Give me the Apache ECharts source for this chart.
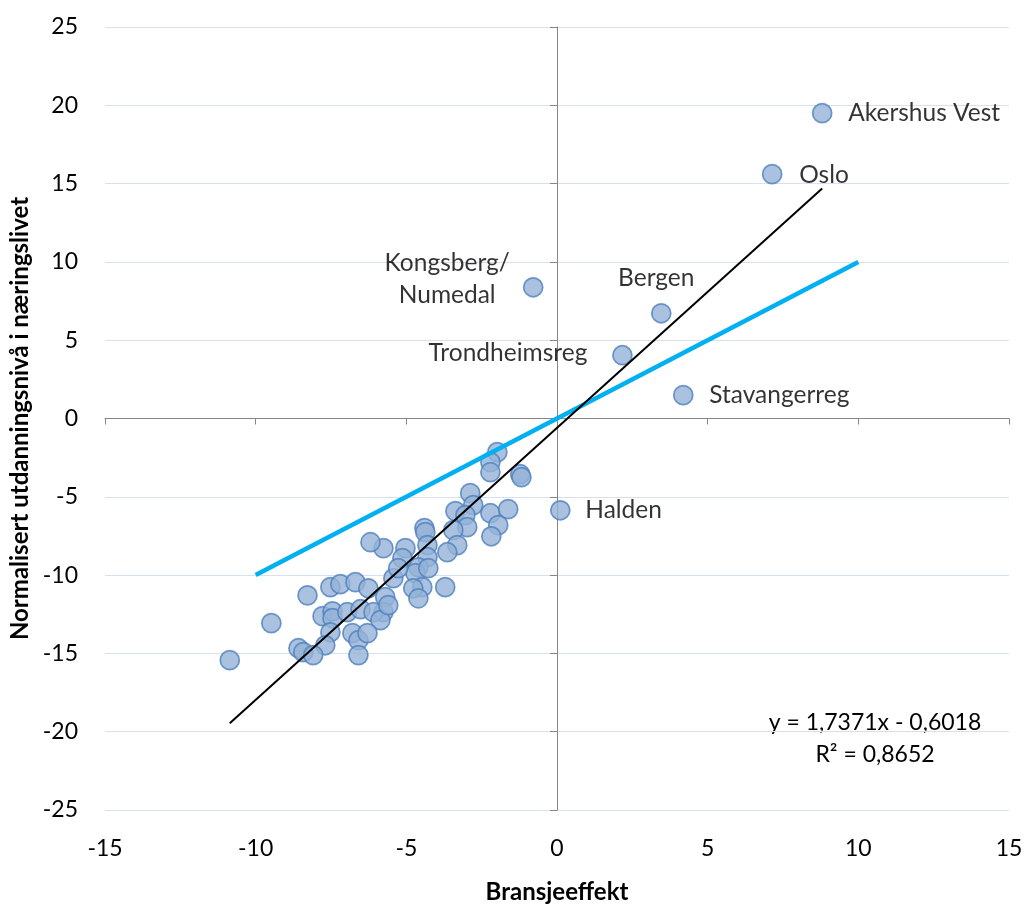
<!DOCTYPE html>
<html><head><meta charset="utf-8">
<script src="https://cdn.jsdelivr.net/npm/echarts@6/dist/echarts.min.js"></script>
<style>html,body{margin:0;padding:0;background:#fff}#c{width:1025px;height:904px}</style>
</head><body><div id="c"></div>
<script>
// ---- data ----
const xAxisTicks = [-15, -10, -5, 0, 5, 10, 15];
const yAxisTicks = [-25, -20, -15, -10, -5, 0, 5, 10, 15, 20, 25];

const namedRegions = ['Akershus Vest', 'Oslo', 'Kongsberg/\nNumedal', 'Bergen', 'Trondheimsreg', 'Stavangerreg', 'Halden'];
const namedX = [8.80, 7.14, -0.79, 3.46, 2.17, 4.19, 0.11];
const namedY = [19.50, 15.60, 8.38, 6.72, 4.04, 1.49, -5.86];

const regionX = [-10.86, -9.48, -8.28, -1.98, -2.21, -2.21, -1.22, -1.18, -2.88, -2.78,
  -3.37, -3.04, -2.21, -1.62, -1.95, -2.18, -2.98, -3.44, -3.31, -3.64,
  -4.40, -4.37, -4.30, -4.30, -5.03, -5.13, -5.76, -4.60, -4.70, -4.27,
  -4.47, -4.77, -4.60, -3.71, -5.43, -5.70, -5.76, -6.19, -7.52, -7.19,
  -6.69, -6.26, -7.78, -7.45, -7.45, -6.96, -6.52, -6.09, -5.86, -7.52,
  -7.69, -8.58, -8.42, -8.09, -6.79, -6.59, -6.29, -6.59, -5.60, -5.27];
const regionY = [-15.43, -13.07, -11.29, -2.15, -2.79, -3.43, -3.56, -3.75, -4.77, -5.53,
  -5.92, -6.17, -6.05, -5.79, -6.81, -7.52, -6.94, -7.13, -8.09, -8.54,
  -7.00, -7.26, -8.09, -8.86, -8.28, -8.92, -8.28, -9.50, -9.88, -9.56,
  -10.77, -10.84, -11.48, -10.77, -10.20, -11.41, -12.37, -7.90, -10.77, -10.58,
  -10.45, -10.84, -12.62, -12.31, -12.75, -12.37, -12.18, -12.37, -12.88, -13.65,
  -14.48, -14.67, -14.92, -15.11, -13.71, -14.16, -13.71, -15.11, -11.92, -9.56];

const diagonalX = [-10, 10];
const diagonalY = [-10, 10];

const trendSlope = 1.7371;
const trendIntercept = -0.6018;
const trendR2 = 0.8652;

// ---- build ----
const FONT = 'Lato, "Open Sans", sans-serif';
const labelStyles = {
  'Akershus Vest': {align: 'left', offset: [26, 0]},
  'Oslo': {align: 'left', offset: [27, 1]},
  'Kongsberg/\nNumedal': {align: 'center', offset: [-86, -8]},
  'Bergen': {align: 'center', offset: [-5, -35]},
  'Trondheimsreg': {align: 'right', offset: [-35, -2]},
  'Stavangerreg': {align: 'left', offset: [26, 0]},
  'Halden': {align: 'left', offset: [25, 0]}
};

const pointData = regionX.map((x, i) => [x, regionY[i]]);
const namedData = namedRegions.map((n, i) => ({
  name: n,
  value: [namedX[i], namedY[i]],
  label: Object.assign({show: true, position: 'inside', verticalAlign: 'middle',
    color: '#000', fontFamily: FONT, fontSize: 24.5, lineHeight: 32,
    formatter: n}, labelStyles[n])
}));

const allX = regionX.concat(namedX);
const tMin = Math.min(...allX), tMax = Math.max(...allX);
const trendData = [[tMin, trendSlope * tMin + trendIntercept], [tMax, trendSlope * tMax + trendIntercept]];
const fmt = v => v.toFixed(4).replace('.', ',');
const eqText = 'y = ' + fmt(trendSlope) + 'x ' + (trendIntercept < 0 ? '- ' : '+ ') + fmt(Math.abs(trendIntercept));
const r2Text = 'R² = ' + fmt(trendR2);

const markerStyle = {color: '#95B3D7', borderColor: '#4F81BD', borderWidth: 1.75};

const chart = echarts.init(document.getElementById('c'), null, {renderer: 'canvas'});
chart.setOption({
  animation: false,
  backgroundColor: '#fff',
  grid: {left: 105, top: 27, width: 904, height: 783, containLabel: false, outerBoundsMode: 'none'},
  xAxis: [
    {type: 'value', min: xAxisTicks[0], max: xAxisTicks[xAxisTicks.length - 1], interval: 5,
      axisLine: {show: false, onZero: false}, axisTick: {show: false}, splitLine: {show: false},
      axisLabel: {margin: 27, fontSize: 23, color: '#000', fontFamily: FONT},
      name: 'Bransjeeffekt', nameLocation: 'middle', nameGap: 70,
      nameTextStyle: {fontSize: 24, fontWeight: 'bold', color: '#000', fontFamily: FONT}},
    {type: 'value', min: xAxisTicks[0], max: xAxisTicks[xAxisTicks.length - 1], interval: 5, position: 'bottom',
      axisLine: {show: true, onZero: true, onZeroAxisIndex: 0, lineStyle: {color: '#868686', width: 1}},
      axisTick: {show: true, length: 6, lineStyle: {color: '#868686'}},
      axisLabel: {show: false}, splitLine: {show: false}}
  ],
  yAxis: [
    {type: 'value', min: yAxisTicks[0], max: yAxisTicks[yAxisTicks.length - 1], interval: 5,
      axisLine: {show: false, onZero: false}, axisTick: {show: false},
      splitLine: {show: true, lineStyle: {color: '#D7E0EE', width: 1}},
      axisLabel: {margin: 27, fontSize: 23, color: '#000', fontFamily: FONT},
      name: 'Normalisert utdanningsnivå i næringslivet', nameLocation: 'middle', nameGap: 70,
      nameTextStyle: {fontSize: 24, fontWeight: 'bold', color: '#000', fontFamily: FONT}},
    {type: 'value', min: yAxisTicks[0], max: yAxisTicks[yAxisTicks.length - 1], interval: 5, position: 'left',
      axisLine: {show: true, onZero: true, onZeroAxisIndex: 0, lineStyle: {color: '#868686', width: 1}},
      axisTick: {show: true, length: 7, lineStyle: {color: '#868686'}},
      axisLabel: {show: false}, splitLine: {show: false}}
  ],
  series: [
    {type: 'scatter', xAxisIndex: 0, yAxisIndex: 0, symbolSize: 19, itemStyle: markerStyle, data: pointData, z: 2},
    {type: 'scatter', xAxisIndex: 0, yAxisIndex: 0, symbolSize: 19, itemStyle: markerStyle, data: namedData, z: 2},
    {type: 'line', xAxisIndex: 0, yAxisIndex: 0, data: diagonalX.map((x, i) => [x, diagonalY[i]]),
      symbol: 'none', lineStyle: {color: '#00B0F0', width: 4.5}, z: 3},
    {type: 'line', xAxisIndex: 0, yAxisIndex: 0, data: trendData,
      symbol: 'none', lineStyle: {color: '#000', width: 2}, z: 4}
  ],
  graphic: [
    {type: 'text', x: 875, y: 723, style: {text: eqText, fill: '#000', font: '23px ' + FONT, align: 'center', verticalAlign: 'middle'}},
    {type: 'text', x: 875, y: 755, style: {text: r2Text, fill: '#000', font: '23px ' + FONT, align: 'center', verticalAlign: 'middle'}}
  ]
});
</script>
</body></html>
